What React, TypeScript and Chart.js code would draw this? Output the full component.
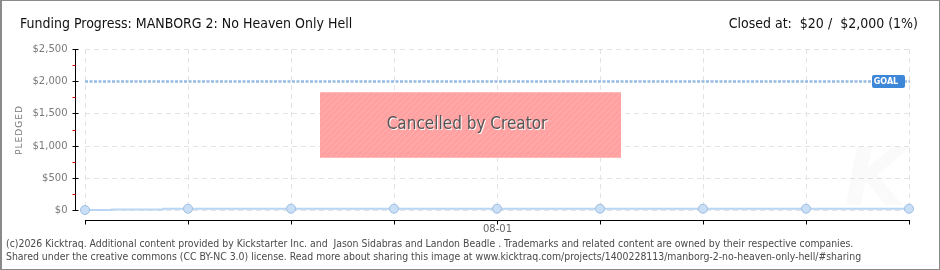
import React, { useEffect, useRef } from "react";
import { Chart, registerables } from "chart.js";

Chart.register(...registerables);

// ---- data ----
const dayLabels = ["07-28", "07-29", "07-30", "07-31", "08-01", "08-02", "08-03", "08-04", "08-05"];
const shownDayLabels = ["08-01"];
const sampleDays = [0, 0.26, 0.76, 1, 2, 3, 4, 5, 6, 7, 8];
const pledged = [0, 8, 20, 20, 20, 20, 20, 20, 20, 20, 20];
const goal = 2000;
const yTicks = [0, 500, 1000, 1500, 2000, 2500];
const yMinorTicks = [250, 750, 1250, 1750, 2250];
const titleText = "Funding Progress: MANBORG 2: No Heaven Only Hell";
const closedText = "Closed at:  $20 /  $2,000 (1%)";
const statusText = "Cancelled by Creator";
const footer1 = "(c)2026 Kicktraq. Additional content provided by Kickstarter Inc. and  Jason Sidabras and Landon Beadle . Trademarks and related content are owned by their respective companies.";
const footer2 = "Shared under the creative commons (CC BY-NC 3.0) license. Read more about sharing this image at www.kicktraq.com/projects/1400228113/manborg-2-no-heaven-only-hell/#sharing";

const TECH = "'DejaVu Sans Condensed', 'DejaVu Sans', sans-serif";

function fmt(v: number) {
  return "$" + v.toLocaleString("en-US");
}

export default function App() {
  const ref = useRef<HTMLCanvasElement | null>(null);
  useEffect(() => {
    const canvas = ref.current!;
    const pat = document.createElement("canvas");
    pat.width = 6;
    pat.height = 6;
    const pc = pat.getContext("2d")!;
    pc.fillStyle = "#ffa1a1";
    pc.fillRect(0, 0, 6, 6);
    pc.strokeStyle = "#ffb0b0";
    pc.lineWidth = 1;
    pc.beginPath();
    pc.moveTo(-1, 7);
    pc.lineTo(7, -1);
    pc.moveTo(-1, 1);
    pc.lineTo(1, -1);
    pc.moveTo(5, 7);
    pc.lineTo(7, 5);
    pc.stroke();

    const decor = {
      id: "decor",
      beforeDatasetsDraw(chart: any) {
        const ctx = chart.ctx as CanvasRenderingContext2D;
        const x = chart.scales.x;
        const y = chart.scales.y;
        const ca = chart.chartArea;
        ctx.save();
        // grid
        ctx.strokeStyle = "#e3e3e3";
        ctx.lineWidth = 1;
        ctx.setLineDash([5, 4]);
        for (const v of yTicks) {
          if (v === goal) continue;
          const py = Math.round(y.getPixelForValue(v)) + 0.5;
          ctx.beginPath();
          ctx.moveTo(ca.left, py);
          ctx.lineTo(ca.right, py);
          ctx.stroke();
        }
        dayLabels.forEach((_, i) => {
          const px = Math.round(x.getPixelForValue(i)) + 0.5;
          ctx.beginPath();
          ctx.moveTo(px, ca.top);
          ctx.lineTo(px, ca.bottom);
          ctx.stroke();
        });
        ctx.setLineDash([]);
        // y axis
        const ax = ca.left - 9.5;
        ctx.strokeStyle = "#000";
        ctx.beginPath();
        ctx.moveTo(ax, y.getPixelForValue(2500));
        ctx.lineTo(ax, y.getPixelForValue(0) + 1);
        ctx.stroke();
        ctx.font = "10px 'DejaVu Sans', sans-serif";
        ctx.fillStyle = "#7a7a7a";
        ctx.textAlign = "right";
        ctx.textBaseline = "middle";
        for (const v of yTicks) {
          const py = Math.round(y.getPixelForValue(v)) + 0.5;
          ctx.strokeStyle = "#000";
          ctx.beginPath();
          ctx.moveTo(ax - 3, py);
          ctx.lineTo(ax + 3, py);
          ctx.stroke();
          ctx.fillText(fmt(v), ax - 8, py);
        }
        ctx.strokeStyle = "#e00000";
        for (const v of yMinorTicks) {
          const py = Math.round(y.getPixelForValue(v)) + 0.5;
          ctx.beginPath();
          ctx.moveTo(ax - 3, py);
          ctx.lineTo(ax, py);
          ctx.stroke();
        }
        // y title
        ctx.save();
        ctx.translate(20, 130);
        ctx.rotate(-Math.PI / 2);
        ctx.textAlign = "center";
        ctx.font = "9px 'DejaVu Sans', sans-serif";
        ctx.fillStyle = "#777";
        (ctx as any).letterSpacing = "1px";
        ctx.fillText("PLEDGED", 0, 0);
        ctx.restore();
        // x axis
        const ay = Math.round(y.getPixelForValue(0)) + 10.5;
        ctx.strokeStyle = "#000";
        ctx.beginPath();
        ctx.moveTo(x.getPixelForValue(0), ay);
        ctx.lineTo(x.getPixelForValue(dayLabels.length - 1) + 1, ay);
        ctx.stroke();
        ctx.textAlign = "center";
        ctx.textBaseline = "top";
        dayLabels.forEach((lab, i) => {
          const px = Math.round(x.getPixelForValue(i)) + 0.5;
          ctx.beginPath();
          ctx.moveTo(px, ay);
          ctx.lineTo(px, ay + 4);
          ctx.stroke();
          if (shownDayLabels.includes(lab)) {
            ctx.fillStyle = "#666";
            ctx.fillText(lab, px, ay + 4);
          }
        });
        // watermark
        ctx.save();
        ctx.fillStyle = "rgba(0,0,0,0.018)";
        ctx.font = "italic bold 80px 'DejaVu Sans', sans-serif";
        ctx.textAlign = "center";
        ctx.textBaseline = "alphabetic";
        ctx.fillText("K", 875, 205);
        ctx.restore();
        // goal line
        const gy = Math.round(y.getPixelForValue(goal));
        ctx.strokeStyle = "#97bbe3";
        ctx.lineWidth = 2.5;
        ctx.setLineDash([3, 1.5]);
        ctx.beginPath();
        ctx.moveTo(ca.left, gy + 0.5);
        ctx.lineTo(ca.right + 1, gy + 0.5);
        ctx.stroke();
        ctx.setLineDash([]);
        ctx.restore();
      },
      afterDraw(chart: any) {
        const ctx = chart.ctx as CanvasRenderingContext2D;
        const y = chart.scales.y;
        ctx.save();
        // goal label
        const gy = Math.round(y.getPixelForValue(goal));
        ctx.fillStyle = "#3d87d9";
        ctx.beginPath();
        (ctx as any).roundRect(872, gy - 6, 33, 13, 2);
        ctx.fill();
        ctx.fillStyle = "#fff";
        ctx.font = "bold 8px 'DejaVu Sans', sans-serif";
        ctx.textAlign = "center";
        ctx.textBaseline = "middle";
        ctx.fillText("GOAL", 886, gy + 0.5);
        // cancelled box
        ctx.fillStyle = ctx.createPattern(pat, "repeat")!;
        ctx.fillRect(320, 92, 301, 66);
        ctx.fillStyle = "#ffb8b8";
        ctx.fillRect(320, 92, 301, 1);
        ctx.fillRect(320, 157, 301, 1);
        ctx.font = "17px " + TECH;
        ctx.textAlign = "center";
        ctx.textBaseline = "middle";
        ctx.fillStyle = "#fff";
        ctx.fillText(statusText, 468, 126);
        ctx.fillStyle = "#555";
        ctx.fillText(statusText, 467, 125);
        ctx.restore();
      },
    };

    const chart = new Chart(canvas, {
      type: "line",
      data: {
        datasets: [
          {
            data: sampleDays.map((d, i) => ({ x: d, y: pledged[i] })),
            borderColor: "#b9d7f4",
            backgroundColor: "rgba(200,225,250,0.35)",
            fill: "origin",
            borderWidth: 2,
            stepped: true,
            pointRadius: sampleDays.map((d) => (Number.isInteger(d) ? 4.5 : 0)),
            pointBackgroundColor: "#c8dff7",
            pointBorderColor: "#9dbde0",
            pointBorderWidth: 1,
            clip: false as any,
          },
        ],
      },
      options: {
        responsive: false,
        animation: false,
        events: [],
        layout: { padding: { left: 85, right: 31, top: 49, bottom: 60 } },
        plugins: { legend: { display: false }, tooltip: { enabled: false } },
        scales: {
          x: { type: "linear", min: 0, max: dayLabels.length - 1, display: false },
          y: { type: "linear", min: 0, max: 2500, display: false },
        },
      },
      plugins: [decor],
    });
    return () => chart.destroy();
  }, []);

  return (
    <div
      style={{
        position: "absolute",
        left: 0,
        top: 0,
        width: 940,
        height: 270,
        boxSizing: "border-box",
        border: "1px solid #8a8a8a",
        borderLeftWidth: 2,
        background: "#fff",
        overflow: "hidden",
      }}
    >
      <canvas ref={ref} width={940} height={270} style={{ position: "absolute", left: -2, top: -1 }} />
      <div style={{ position: "absolute", left: 18, top: 14, font: "14px " + TECH, color: "#111", whiteSpace: "nowrap" }}>
        {titleText}
      </div>
      <div style={{ position: "absolute", right: 21, top: 14, font: "14px " + TECH, color: "#111", whiteSpace: "pre" }}>
        {closedText}
      </div>
      <div style={{ position: "absolute", left: 4, top: 236, font: "10.4px " + TECH, color: "#4a4a4a", lineHeight: "13px", whiteSpace: "pre" }}>
        {footer1}
        {"\n"}
        {footer2}
      </div>
    </div>
  );
}
